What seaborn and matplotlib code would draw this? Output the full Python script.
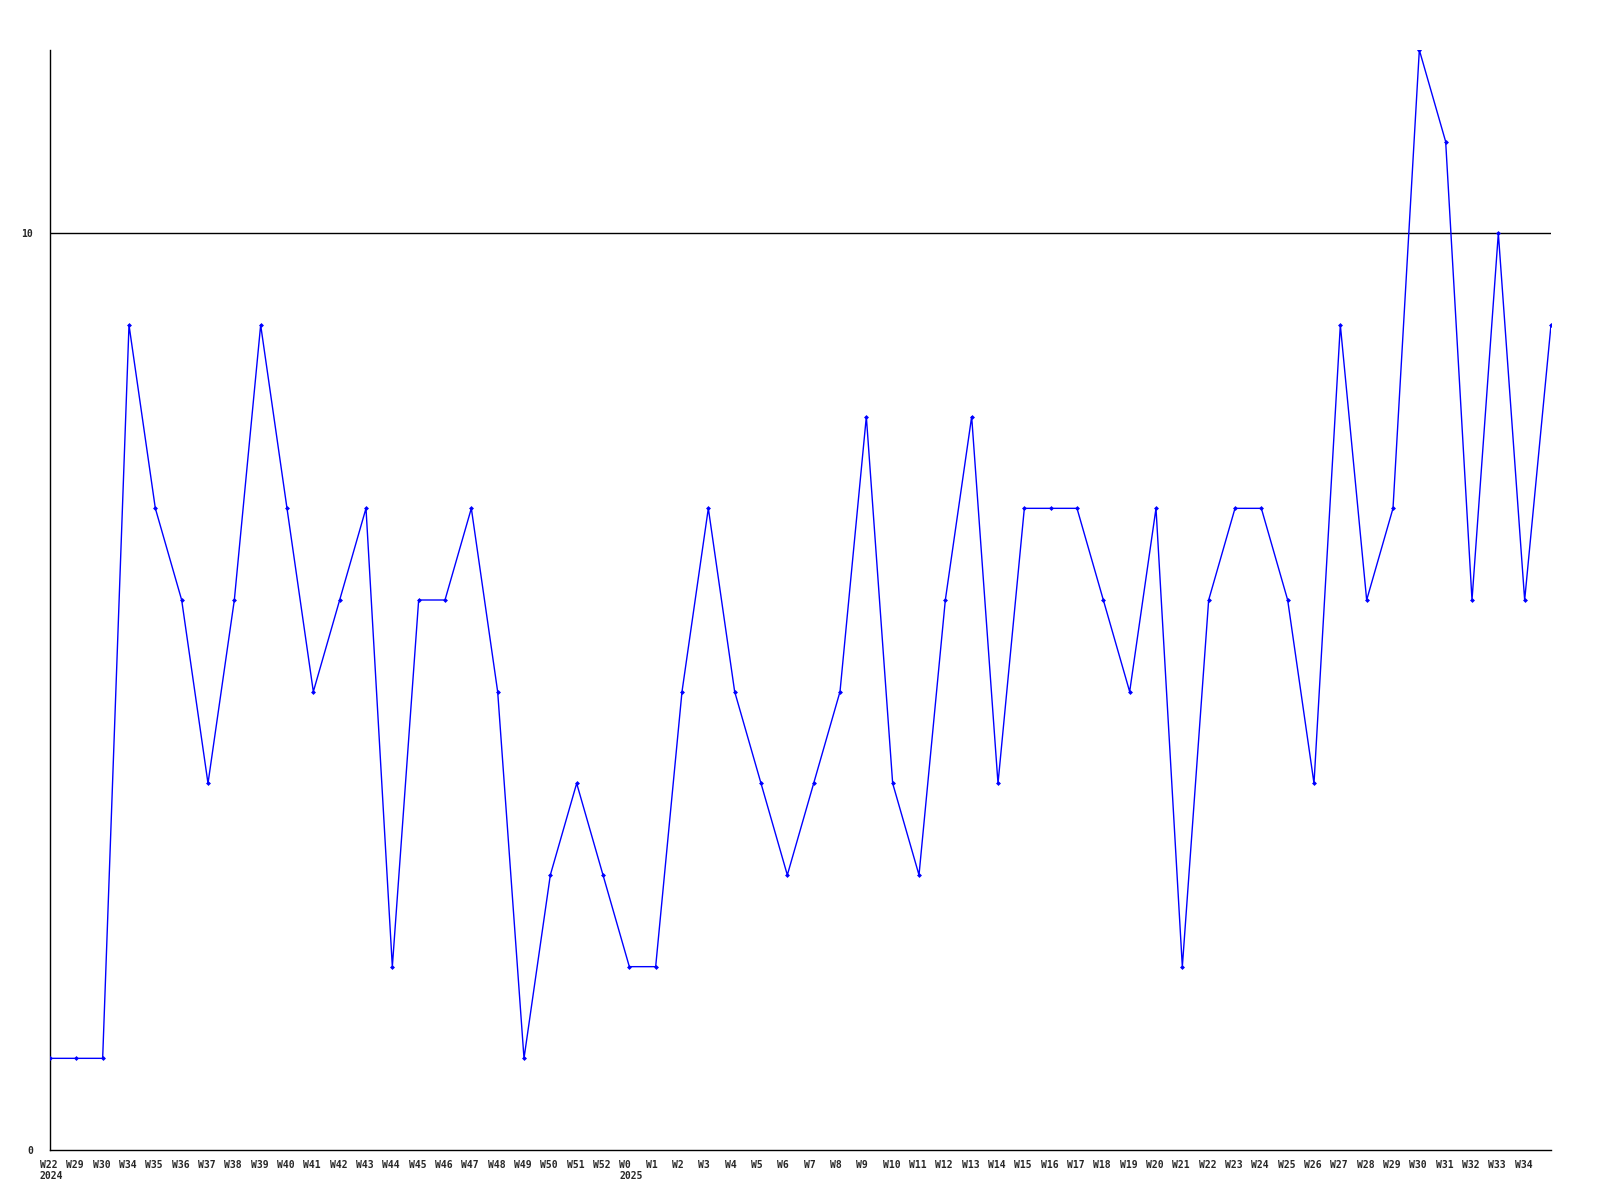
import numpy as np
import pandas as pd
import matplotlib
matplotlib.use('Agg')
import matplotlib.pyplot as plt
import matplotlib.transforms as mtransforms
import seaborn as sns

weeks = ['W22', 'W29', 'W30', 'W34', 'W35', 'W36', 'W37', 'W38', 'W39', 'W40',
         'W41', 'W42', 'W43', 'W44', 'W45', 'W46', 'W47', 'W48', 'W49', 'W50',
         'W51', 'W52', 'W0', 'W1', 'W2', 'W3', 'W4', 'W5', 'W6', 'W7',
         'W8', 'W9', 'W10', 'W11', 'W12', 'W13', 'W14', 'W15', 'W16', 'W17',
         'W18', 'W19', 'W20', 'W21', 'W22', 'W23', 'W24', 'W25', 'W26', 'W27',
         'W28', 'W29', 'W30', 'W31', 'W32', 'W33', 'W34', '']
year_marks = {0: '2024', 22: '2025'}
values = [1, 1, 1, 9, 7, 6, 4, 6, 9, 7,
          5, 6, 7, 2, 6, 6, 7, 5, 1, 3,
          4, 3, 2, 2, 5, 7, 5, 4, 3, 4,
          5, 8, 4, 3, 6, 8, 4, 7, 7, 7,
          6, 5, 7, 2, 6, 7, 7, 6, 4, 9,
          6, 7, 12, 11, 6, 10, 6, 9]
y_ticks = [0, 10]
limit = 10

df = pd.DataFrame({'idx': np.arange(len(values)), 'value': values})

sns.set_style('white')
plt.rcParams['font.family'] = ['DejaVu Sans Mono', 'DejaVu Sans']

fig = plt.figure(figsize=(16, 12), dpi=100)
ax = fig.add_axes([50 / 1600, 50 / 1200, 1501 / 1600, 1100 / 1200])

ax.axhline(limit, color='black', linewidth=1, zorder=1)
sns.lineplot(data=df, x='idx', y='value', ax=ax, color='#0000ff', linewidth=1,
             marker='D', markersize=2.5, markeredgewidth=0, zorder=3)

ax.set_xlim(0, len(values) - 1)
ax.set_ylim(0, 12)
ax.set_xlabel('')
ax.set_ylabel('')

labels = [w + ('\n' + year_marks[i] if i in year_marks else '') for i, w in enumerate(weeks)]
ax.set_xticks(df['idx'])
ax.set_xticklabels(labels, fontsize=7, fontweight='bold', ha='left')
ax.set_yticks(y_ticks)
ax.set_yticklabels([str(t) for t in y_ticks], fontsize=7, fontweight='bold')
ax.tick_params(axis='x', length=0, pad=7)
ax.tick_params(axis='y', length=0, pad=12)

# labels start a bit left of their point, like the original GD chart
shift = mtransforms.ScaledTranslation(-10 / 100, 0, fig.dpi_scale_trans)
for lab in ax.get_xticklabels():
    lab.set_transform(lab.get_transform() + shift)
    lab.set_multialignment('left')

for side in ['top', 'right']:
    ax.spines[side].set_visible(False)
for side in ['left', 'bottom']:
    ax.spines[side].set_color('black')
    ax.spines[side].set_linewidth(1)

fig.savefig('out.png', dpi=100, facecolor='white')
